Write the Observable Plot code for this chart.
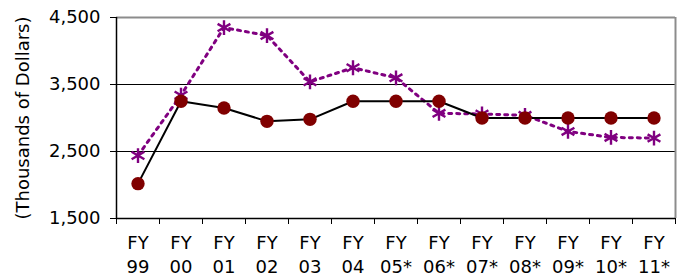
<!DOCTYPE html>
<html>
<head>
<meta charset="utf-8">
<script src="https://cdn.jsdelivr.net/npm/d3@7"></script>
<script src="https://cdn.jsdelivr.net/npm/@observablehq/plot@0.6"></script>
<style>
  html, body { margin: 0; padding: 0; background: #fff; }
  #chart svg { display: block; }
</style>
</head>
<body>
<div id="chart"></div>
<script>
const years = ["99", "00", "01", "02", "03", "04", "05*", "06*", "07*", "08*", "09*", "10*", "11*"];
const seriesA = [2020, 3250, 3150, 2950, 2980, 3250, 3250, 3250, 3000, 3000, 3000, 3000, 3000];
const seriesB = [2440, 3340, 4350, 4230, 3540, 3750, 3600, 3070, 3060, 3040, 2800, 2710, 2700];
const yTicks = [1500, 2500, 3500, 4500];
const gridValues = [2500, 3500];
const yLabel = "(Thousands of Dollars)";

const n = years.length;
const idx = d3.range(n);
const boundaries = d3.range(n + 1).map(i => i - 0.5);
const rowsA = idx.map(i => ({i, v: seriesA[i]}));
const rowsB = idx.map(i => ({i, v: seriesB[i]}));
const font = "'DejaVu Sans', sans-serif";

const chart = Plot.plot({
  width: 688,
  height: 278,
  marginLeft: 116,
  marginRight: 13,
  marginTop: 17,
  marginBottom: 60,
  style: {fontFamily: font, background: "#fff", color: "#000"},
  x: {type: "linear", domain: [-0.5, n - 0.5], axis: null},
  y: {domain: [yTicks[0], yTicks[yTicks.length - 1]], axis: null},
  marks: [
    Plot.ruleY(gridValues, {stroke: "#000", strokeWidth: 1.2}),
    Plot.ruleY([yTicks[yTicks.length - 1]], {stroke: "#8c8c8c", strokeWidth: 2}),
    Plot.ruleX([n - 0.5], {stroke: "#8c8c8c", strokeWidth: 2}),
    Plot.ruleX([-0.5], {stroke: "#000", strokeWidth: 1.5}),
    Plot.ruleY([yTicks[0]], {stroke: "#000", strokeWidth: 1.5}),
    Plot.axisY({ticks: yTicks, tickFormat: d3.format(","), tickSize: 6, tickPadding: 10, fontSize: 18, label: null, stroke: "#000"}),
    Plot.axisX({ticks: boundaries, tickFormat: () => "", tickSize: 6, label: null, stroke: "#000"}),
    Plot.text(idx, {x: i => i, frameAnchor: "bottom", text: i => "FY\n" + years[i], lineAnchor: "top", dy: 14, fontSize: 18, lineHeight: 1.32, fill: "#000"}),
    Plot.text([yLabel], {frameAnchor: "left", textAnchor: "middle", rotate: -90, dx: -93, fontSize: 18, fill: "#000"}),
    Plot.line(rowsB, {x: "i", y: "v", stroke: "#800080", strokeWidth: 3, strokeDasharray: "3,5"}),
    Plot.line(rowsA, {x: "i", y: "v", stroke: "#000", strokeWidth: 2}),
    Plot.dot(rowsB, {x: "i", y: "v", symbol: "asterisk", r: 7, stroke: "#800080", strokeWidth: 2.4}),
    Plot.dot(rowsA, {x: "i", y: "v", r: 6.7, fill: "#800000", stroke: "none"})
  ]
});
document.getElementById("chart").appendChild(chart);
</script>
</body>
</html>
